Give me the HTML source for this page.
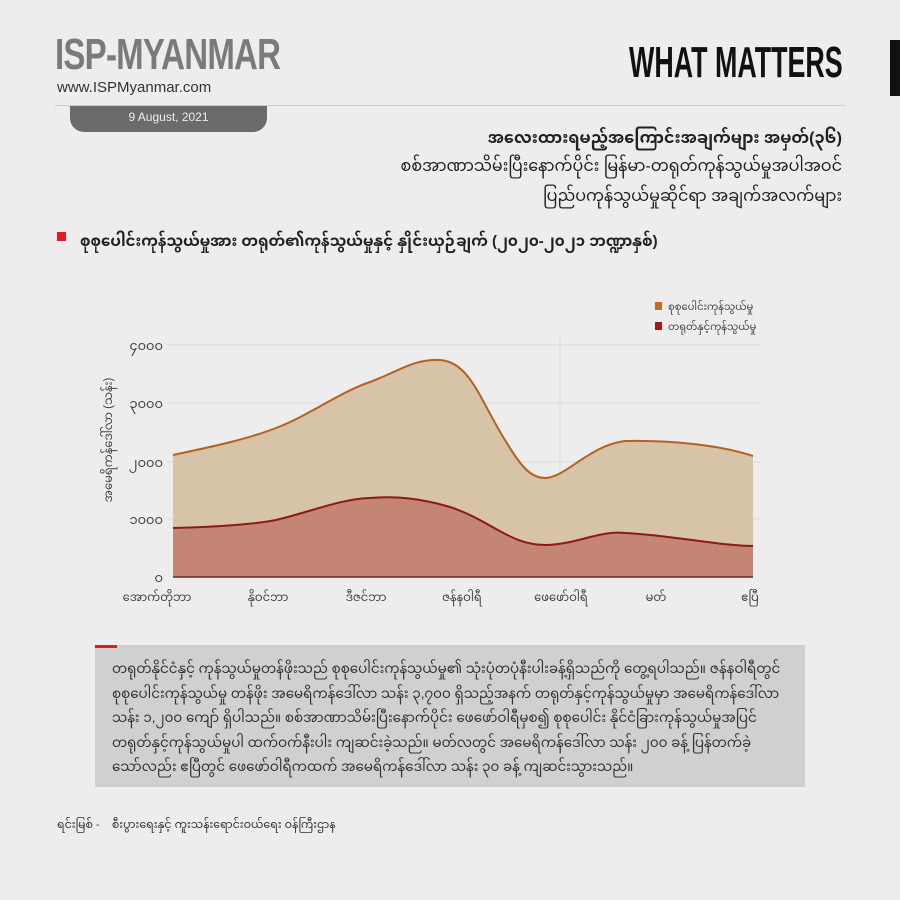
<!DOCTYPE html>
<html><head><meta charset="utf-8"><style>
body{margin:0;width:900px;height:900px;background:#ededed;position:relative;overflow:hidden;font-family:"Liberation Sans","Noto Sans Myanmar","Padauk",sans-serif;color:#222}
.a{position:absolute;white-space:nowrap}
</style></head><body>
<div class="a" style="left:55px;top:30px;font:bold 44px 'Liberation Sans Narrow','Liberation Sans',sans-serif;color:#7a7a7a;transform:scaleX(0.75);transform-origin:left;letter-spacing:-1px">ISP-MYANMAR</div>
<div class="a" style="left:57px;top:79px;font-size:15px;color:#333">www.ISPMyanmar.com</div>
<div class="a" style="left:629px;top:38px;font:bold 44px 'Liberation Sans Narrow','Liberation Sans',sans-serif;color:#111;transform:scaleX(0.61);transform-origin:left">WHAT MATTERS</div>
<div class="a" style="left:890px;top:40px;width:10px;height:56px;background:#111"></div>
<div class="a" style="left:55px;top:105px;width:790px;height:1px;background:#ccc"></div>
<div class="a" style="left:70px;top:106px;width:197px;height:26px;background:#6b6b6b;border-radius:0 0 14px 14px;color:#eee;font-size:12px;text-align:center;line-height:22px">9 August, 2021</div>
<div class="a" style="right:58px;top:122px;font-size:16px;font-weight:bold;text-align:right">အလေးထားရမည့်အကြောင်းအချက်များ အမှတ်(၃၆)</div>
<div class="a" style="right:58px;top:150px;font-size:16px;text-align:right">စစ်အာဏာသိမ်းပြီးနောက်ပိုင်း မြန်မာ-တရုတ်ကုန်သွယ်မှုအပါအဝင်</div>
<div class="a" style="right:58px;top:180px;font-size:16px;text-align:right">ပြည်ပကုန်သွယ်မှုဆိုင်ရာ အချက်အလက်များ</div>
<div class="a" style="left:57px;top:232px;width:9px;height:9px;background:#e31b23"></div>
<div class="a" style="left:80px;top:226px;font-size:15px;font-weight:bold">စုစုပေါင်းကုန်သွယ်မှုအား တရုတ်၏ကုန်သွယ်မှုနှင့် နှိုင်းယှဉ်ချက် (၂၀၂၀-၂၀၂၁ ဘဏ္ဍာနှစ်)</div>
<svg class="a" style="left:0;top:0" width="900" height="640">
<g stroke="#dcdcdc" stroke-width="1">
<line x1="167" y1="345" x2="760" y2="345"/><line x1="167" y1="403" x2="760" y2="403"/><line x1="167" y1="462" x2="760" y2="462"/><line x1="167" y1="519" x2="760" y2="519"/>
<line x1="560" y1="335" x2="560" y2="577"/>
</g>
<path d="M173,455 C210,447 245,440 276,428 C310,415 340,392 370,382 C395,373 415,358 440,360 C470,362 480,400 505,440 C520,465 530,478 545,478 C565,478 590,445 625,441 C670,440 720,445 753,456 L753,577 L173,577Z" fill="#d7c3a7"/>
<path d="M173,455 C210,447 245,440 276,428 C310,415 340,392 370,382 C395,373 415,358 440,360 C470,362 480,400 505,440 C520,465 530,478 545,478 C565,478 590,445 625,441 C670,440 720,445 753,456" fill="none" stroke="#b4621e" stroke-width="2"/>
<path d="M173,528 C215,527 250,525 276,520 C310,512 340,499 370,498 C395,496 420,498 450,507 C490,520 510,545 545,545 C575,545 600,530 625,533 C670,535 720,546 753,546 L753,577 L173,577Z" fill="#c48575"/>
<path d="M173,528 C215,527 250,525 276,520 C310,512 340,499 370,498 C395,496 420,498 450,507 C490,520 510,545 545,545 C575,545 600,530 625,533 C670,535 720,546 753,546" fill="none" stroke="#8e1a15" stroke-width="2"/>
<line x1="173" y1="577" x2="753" y2="577" stroke="#6b2a20" stroke-width="1.5"/>
<g font-size="13" fill="#444" text-anchor="end">
<text x="163" y="350">၄၀၀၀</text><text x="163" y="408">၃၀၀၀</text><text x="163" y="467">၂၀၀၀</text><text x="163" y="524">၁၀၀၀</text><text x="163" y="582">၀</text>
</g>
<g font-size="11.5" fill="#444" text-anchor="middle">
<text x="157" y="601">အောက်တိုဘာ</text><text x="268" y="601">နိုဝင်ဘာ</text><text x="366" y="601">ဒီဇင်ဘာ</text><text x="462" y="601">ဇန်နဝါရီ</text><text x="561" y="601">ဖေဖော်ဝါရီ</text><text x="656" y="601">မတ်</text><text x="750" y="601">ဧပြီ</text>
</g>
<text transform="translate(112,440) rotate(-90)" font-size="11.5" fill="#444" text-anchor="middle">အမေရိကန်ဒေါ်လာ (သန်း)</text>
<rect x="655" y="302" width="7" height="8" fill="#c26a2b"/><text x="668" y="310" font-size="10" fill="#444">စုစုပေါင်းကုန်သွယ်မှု</text>
<rect x="655" y="322" width="7" height="8" fill="#a01b1b"/><text x="668" y="330" font-size="10" fill="#444">တရုတ်နှင့်ကုန်သွယ်မှု</text>
</svg>
<div class="a" style="left:95px;top:645px;width:710px;height:142px;background:#d0d0d0"></div>
<div class="a" style="left:95px;top:645px;width:22px;height:3px;background:#e31b23"></div>
<div class="a" style="left:112px;top:657px;width:685px;white-space:normal;font-size:13.5px;line-height:24.5px;color:#333">တရုတ်နိုင်ငံနှင့် ကုန်သွယ်မှုတန်ဖိုးသည် စုစုပေါင်းကုန်သွယ်မှု၏ သုံးပုံတပုံနီးပါးခန့်ရှိသည်ကို တွေ့ရပါသည်။ ဇန်နဝါရီတွင် စုစုပေါင်းကုန်သွယ်မှု တန်ဖိုး အမေရိကန်ဒေါ်လာ သန်း ၃,၇၀၀ ရှိသည့်အနက် တရုတ်နှင့်ကုန်သွယ်မှုမှာ အမေရိကန်ဒေါ်လာ သန်း ၁,၂၀၀ ကျော် ရှိပါသည်။ စစ်အာဏာသိမ်းပြီးနောက်ပိုင်း ဖေဖော်ဝါရီမှစ၍ စုစုပေါင်း နိုင်ငံခြားကုန်သွယ်မှုအပြင် တရုတ်နှင့်ကုန်သွယ်မှုပါ ထက်ဝက်နီးပါး ကျဆင်းခဲ့သည်။ မတ်လတွင် အမေရိကန်ဒေါ်လာ သန်း ၂၀၀ ခန့် ပြန်တက်ခဲ့သော်လည်း ဧပြီတွင် ဖေဖော်ဝါရီကထက် အမေရိကန်ဒေါ်လာ သန်း ၃၀ ခန့် ကျဆင်းသွားသည်။</div>
<div class="a" style="left:57px;top:814px;font-size:11px;color:#333">ရင်းမြစ် -&nbsp;&nbsp;&nbsp; စီးပွားရေးနှင့် ကူးသန်းရောင်းဝယ်ရေး ဝန်ကြီးဌာန</div>
</body></html>
